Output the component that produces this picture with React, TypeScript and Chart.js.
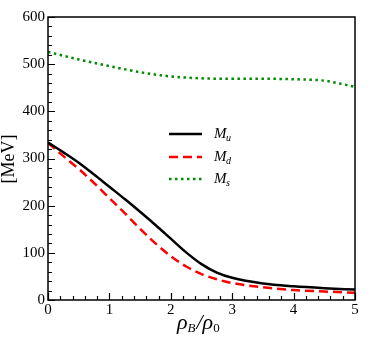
import React, { useEffect, useRef } from "react";
import { Chart, registerables } from "chart.js";

Chart.register(...registerables);

// rho_B / rho_0 sample points for the light quarks
const densityRatio = [0, 0.25, 0.5, 0.75, 1, 1.25, 1.5, 1.75, 2, 2.25, 2.5, 2.75, 3, 3.5, 4, 4.5, 5];
// constituent masses [MeV]
const massU = [334, 313, 291, 266, 240, 214, 187, 159, 130, 101, 76, 58, 47, 35, 29, 25, 22];
const massD = [333, 305, 278, 248, 216, 184, 151, 120, 93, 71, 55, 44, 36, 27, 21, 18, 15.5];
// strange quark sample points
const densityRatioS = [0, 0.5, 1, 1.5, 2, 2.5, 3, 3.5, 4, 4.5, 4.75, 5];
const massS = [526, 510, 496, 483, 474, 470, 469, 469, 468, 465, 459, 452];

const xTickValues = [0, 1, 2, 3, 4, 5];
const yTickValues = [0, 100, 200, 300, 400, 500, 600];
const seriesNames = ["u", "d", "s"];

const FONT = "'Liberation Serif', 'Times New Roman', serif";

const framePlugin = {
  id: "frameAndDecor",
  afterDraw(chart: any) {
    const { ctx, chartArea, scales } = chart;
    const xs = scales.x;
    const ys = scales.y;
    ctx.save();
    // frame
    ctx.strokeStyle = "#000";
    ctx.lineWidth = 1.5;
    ctx.strokeRect(chartArea.left, chartArea.top, chartArea.right - chartArea.left, chartArea.bottom - chartArea.top);
    // inward ticks
    ctx.lineWidth = 1.2;
    ctx.beginPath();
    for (let v = 0; v <= 600 + 1e-6; v += 20) {
      const major = Math.abs(v % 100) < 1e-6;
      const py = Math.round(ys.getPixelForValue(v)) + 0.5;
      ctx.moveTo(chartArea.left, py);
      ctx.lineTo(chartArea.left + (major ? 7 : 4), py);
    }
    for (let i = 0; i <= 25; i++) {
      const v = i * 0.2;
      const major = i % 5 === 0;
      const px = Math.round(xs.getPixelForValue(v)) + 0.5;
      ctx.moveTo(px, chartArea.bottom);
      ctx.lineTo(px, chartArea.bottom - (major ? 7 : 4));
    }
    ctx.stroke();

    // legend
    const lx0 = 169;
    const lx1 = 202;
    const rows = [134, 157, 179];
    chart.data.datasets.forEach((ds: any, i: number) => {
      const y = rows[i];
      ctx.save();
      ctx.strokeStyle = ds.borderColor;
      ctx.lineWidth = ds.borderWidth;
      ctx.setLineDash(ds.borderDash || []);
      ctx.beginPath();
      ctx.moveTo(lx0, y);
      ctx.lineTo(lx1, y);
      ctx.stroke();
      ctx.restore();
      ctx.fillStyle = "#000";
      ctx.textBaseline = "alphabetic";
      ctx.textAlign = "left";
      ctx.font = `italic 15px ${FONT}`;
      ctx.fillText("M", 214, y + 4);
      const mw = ctx.measureText("M").width;
      ctx.font = `italic 10px ${FONT}`;
      ctx.fillText(seriesNames[i], 214 + mw - 0.5, y + 7);
    });

    // x-axis title: rho_B / rho_0
    ctx.fillStyle = "#000";
    let tx = 177;
    const base = 329;
    ctx.font = `italic 22px ${FONT}`;
    ctx.fillText("ρ", tx, base);
    tx += ctx.measureText("ρ").width;
    ctx.font = `italic 13px ${FONT}`;
    ctx.fillText("B", tx, base + 3);
    tx += ctx.measureText("B").width + 1;
    ctx.font = `italic 22px ${FONT}`;
    ctx.fillText("/", tx, base);
    tx += ctx.measureText("/").width;
    ctx.fillText("ρ", tx, base);
    tx += ctx.measureText("ρ").width;
    ctx.font = `13px ${FONT}`;
    ctx.fillText("0", tx, base + 3);

    // y-axis title
    ctx.save();
    ctx.translate(9, 159);
    ctx.rotate(-Math.PI / 2);
    ctx.font = `18px ${FONT}`;
    ctx.textAlign = "center";
    ctx.textBaseline = "middle";
    ctx.fillText("[MeV]", 0, 0);
    ctx.restore();

    ctx.restore();
  },
};

export default function App() {
  const ref = useRef<HTMLCanvasElement | null>(null);

  useEffect(() => {
    if (!ref.current) return;
    const mk = (xs: number[], ys: number[]) => xs.map((x, i) => ({ x, y: ys[i] }));
    const chart = new Chart(ref.current, {
      type: "line",
      data: {
        datasets: [
          {
            label: "M_u",
            data: mk(densityRatio, massU),
            borderColor: "#000000",
            borderWidth: 2.5,
            pointRadius: 0,
            cubicInterpolationMode: "monotone",
            fill: false,
          },
          {
            label: "M_d",
            data: mk(densityRatio, massD),
            borderColor: "#ff0000",
            borderWidth: 2.5,
            borderDash: [9, 5],
            pointRadius: 0,
            cubicInterpolationMode: "monotone",
            fill: false,
          },
          {
            label: "M_s",
            data: mk(densityRatioS, massS),
            borderColor: "#008c00",
            borderWidth: 2.5,
            borderDash: [2.5, 3.5],
            pointRadius: 0,
            cubicInterpolationMode: "monotone",
            fill: false,
          },
        ],
      } as any,
      options: {
        animation: false,
        responsive: false,
        devicePixelRatio: 1,
        layout: { padding: { top: 17, right: 19, left: 0, bottom: 0 } },
        plugins: { legend: { display: false }, tooltip: { enabled: false } },
        scales: {
          x: {
            type: "linear",
            min: 0,
            max: 5,
            afterBuildTicks: (s: any) => {
              s.ticks = xTickValues.map((v) => ({ value: v }));
            },
            afterFit: (s: any) => {
              s.height = 45;
            },
            ticks: {
              color: "#000",
              font: { family: FONT, size: 15 },
              padding: 1,
              autoSkip: false,
              maxRotation: 0,
            },
            grid: { display: false, drawTicks: false },
            border: { display: false },
          },
          y: {
            type: "linear",
            min: 0,
            max: 600,
            afterBuildTicks: (s: any) => {
              s.ticks = yTickValues.map((v) => ({ value: v }));
            },
            afterFit: (s: any) => {
              s.width = 48;
            },
            ticks: {
              color: "#000",
              font: { family: FONT, size: 15 },
              padding: 3,
              autoSkip: false,
            },
            grid: { display: false, drawTicks: false },
            border: { display: false },
          },
        },
      } as any,
      plugins: [framePlugin],
    });
    return () => chart.destroy();
  }, []);

  return (
    <div style={{ position: "absolute", left: 0, top: 0, width: 374, height: 345, background: "#fff" }}>
      <canvas ref={ref} width={374} height={345} style={{ display: "block", width: 374, height: 345 }} />
    </div>
  );
}
